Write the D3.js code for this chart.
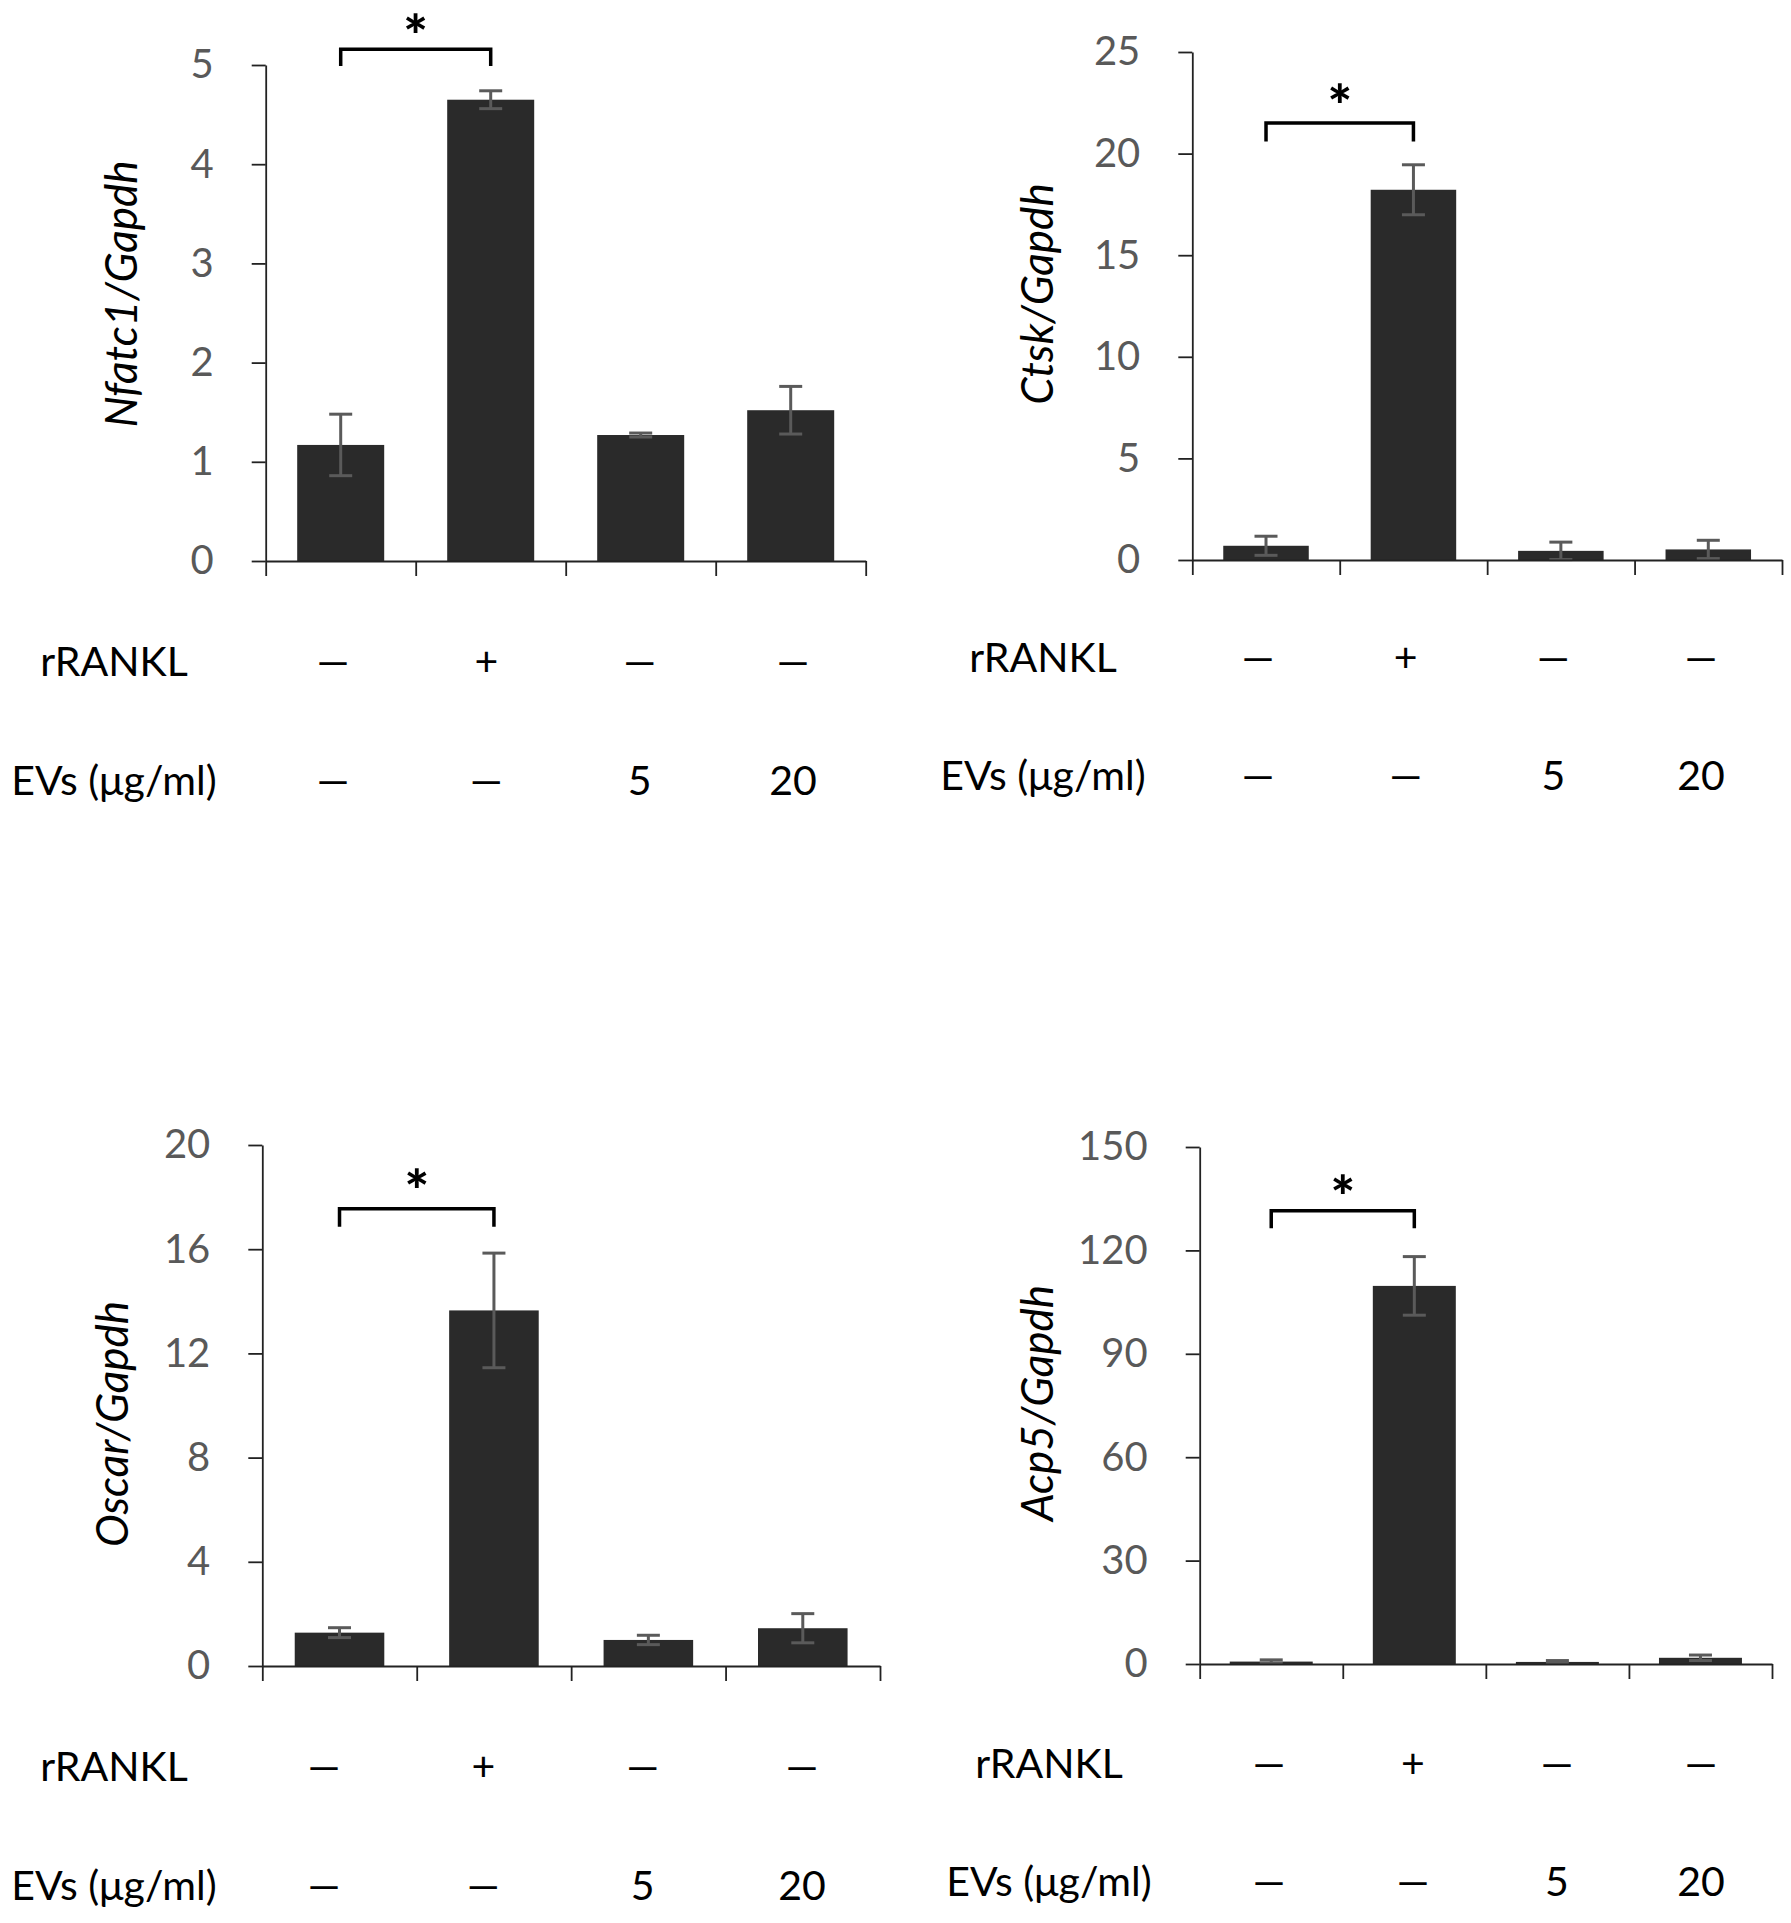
<!DOCTYPE html>
<html lang="en">
<head>
<meta charset="UTF-8">
<title>Osteoclast marker expression</title>
<script src="https://d3js.org/d3.v7.min.js"></script>
<style>
  body { margin: 0; background: #fff; }
  svg { display: block; }
</style>
</head>
<body>
<svg id="chart"></svg>
<script>
// ---- data ----
var categories = ["ctrl", "rRANKL", "EVs 5", "EVs 20"];
var rranklRow = ["\u2014", "+", "\u2014", "\u2014"];
var evsRow = ["\u2014", "\u2014", "5", "20"];
var genes = ["Nfatc1", "Ctsk", "Oscar", "Acp5"];

var nfatc1Mean = [1.17, 4.65, 1.27, 1.52];
var nfatc1Err  = [0.31, 0.09, 0.02, 0.24];
var ctskMean   = [0.70, 18.22, 0.45, 0.52];
var ctskErr    = [0.47, 1.23, 0.43, 0.45];
var oscarMean  = [1.28, 13.65, 1.00, 1.45];
var oscarErr   = [0.19, 2.20, 0.18, 0.56];
var acp5Mean   = [0.70, 109.7, 0.60, 1.80];
var acp5Err    = [0.50, 8.5, 0.40, 0.80];

var yMax  = [5, 25, 20, 150];
var yStep = [1, 5, 4, 30];

// significance bracket (between ctrl and rRANKL), in data units
var sigTop  = [5.16, 21.5, 17.55, 131.5];
var sigLeg  = [4.99, 20.6, 16.86, 126.4];
var starAt  = [5.44, 23.1, 18.8, 139.7];

var means = [nfatc1Mean, ctskMean, oscarMean, acp5Mean];
var errs  = [nfatc1Err, ctskErr, oscarErr, acp5Err];

// ---- layout (pixels) ----
var layout = [
  {x0: 265.7, x1: 865.7, yTop: 65,   yBase: 561,  labX: 122,  labY: 294,
   row1: 661,  row2: 780,  rowLabX: 114,  symA: 333,  symB: 793},
  {x0: 1192.3, x1: 1782, yTop: 52,   yBase: 560,  labX: 1038, labY: 294,
   row1: 657,  row2: 775,  rowLabX: 1043, symA: 1258, symB: 1701},
  {x0: 262.3, x1: 880,   yTop: 1145, yBase: 1666, labX: 113,  labY: 1424,
   row1: 1766, row2: 1885, rowLabX: 114,  symA: 324,  symB: 802},
  {x0: 1199.7, x1: 1772, yTop: 1147, yBase: 1664, labX: 1038, labY: 1403,
   row1: 1763, row2: 1881, rowLabX: 1049, symA: 1269, symB: 1701}
];

var W = 1791, H = 1923;
var FONT = "Lato, 'Open Sans', 'DejaVu Sans', sans-serif";

var svg = d3.select("#chart").attr("width", W).attr("height", H)
    .style("font-family", FONT);

layout.forEach(function(L, p) {
    var g = svg.append("g");

    var x = d3.scaleBand().domain(categories)
        .range([L.x0, L.x1]).paddingInner(0.42).paddingOuter(0.21);
    var xEdge = d3.scaleLinear().domain([0, categories.length]).range([L.x0, L.x1]);
    var y = d3.scaleLinear().domain([0, yMax[p]]).range([L.yBase, L.yTop]);

    // bars
    g.selectAll("rect.bar")
        .data(means[p])
        .enter().append("rect")
        .attr("class", "bar")
        .attr("x", function(d, i) { return x(categories[i]); })
        .attr("width", x.bandwidth())
        .attr("y", function(d) { return y(d); })
        .attr("height", function(d) { return y(0) - y(d); })
        .attr("fill", "#2a2a2a");

    // error bars
    var eb = g.selectAll("g.err")
        .data(means[p].map(function(m, i) { return {m: m, e: errs[p][i], c: categories[i]}; }))
        .enter().append("g")
        .attr("class", "err")
        .attr("stroke", "#5a5a5a")
        .attr("stroke-width", 3);
    var cx = function(d) { return x(d.c) + x.bandwidth() / 2; };
    eb.append("line")
        .attr("x1", cx).attr("x2", cx)
        .attr("y1", function(d) { return y(d.m + d.e); })
        .attr("y2", function(d) { return y(Math.max(0, d.m - d.e)); });
    eb.append("line")
        .attr("x1", function(d) { return cx(d) - 11.5; })
        .attr("x2", function(d) { return cx(d) + 11.5; })
        .attr("y1", function(d) { return y(d.m + d.e); })
        .attr("y2", function(d) { return y(d.m + d.e); });
    eb.append("line")
        .attr("x1", function(d) { return cx(d) - 11.5; })
        .attr("x2", function(d) { return cx(d) + 11.5; })
        .attr("y1", function(d) { return y(Math.max(0, d.m - d.e)); })
        .attr("y2", function(d) { return y(Math.max(0, d.m - d.e)); });

    // y axis
    var yAxis = g.append("g")
        .attr("transform", "translate(" + L.x0 + ",0)")
        .call(d3.axisLeft(y).tickValues(d3.range(0, yMax[p] + yStep[p] / 2, yStep[p]))
            .tickFormat(d3.format("d"))
            .tickSize(14).tickSizeOuter(0).tickPadding(38));
    yAxis.select(".domain").attr("stroke", "#222").attr("stroke-width", 1.8);
    yAxis.selectAll(".tick line").attr("stroke", "#222").attr("stroke-width", 1.8);
    yAxis.selectAll(".tick text")
        .attr("font-size", 40).attr("font-family", FONT).attr("fill", "#595959");

    // x axis with ticks at category boundaries
    var xAxis = g.append("g")
        .attr("transform", "translate(0," + L.yBase + ")")
        .call(d3.axisBottom(xEdge).ticks(categories.length).tickSize(15)
            .tickSizeOuter(0).tickFormat(""));
    xAxis.select(".domain").attr("stroke", "#222").attr("stroke-width", 1.8);
    xAxis.selectAll(".tick line").attr("stroke", "#222").attr("stroke-width", 1.8);

    // y axis title
    g.append("text")
        .attr("transform", "translate(" + L.labX + "," + L.labY + ") rotate(-90)")
        .attr("text-anchor", "middle")
        .attr("dy", "0.35em")
        .attr("font-size", 44)
        .attr("font-style", "italic")
        .attr("fill", "#000")
        .text(genes[p] + "/Gapdh");

    // significance bracket
    var bx1 = x(categories[0]) + x.bandwidth() / 2,
        bx2 = x(categories[1]) + x.bandwidth() / 2;
    g.append("path")
        .attr("d", d3.line()([[bx1, y(sigLeg[p])], [bx1, y(sigTop[p])],
                              [bx2, y(sigTop[p])], [bx2, y(sigLeg[p])]]))
        .attr("fill", "none")
        .attr("stroke", "#000")
        .attr("stroke-width", 3.5);
    g.append("text")
        .attr("x", (bx1 + bx2) / 2)
        .attr("y", y(starAt[p]))
        .attr("dy", "0.62em")
        .attr("text-anchor", "middle")
        .attr("font-size", 58)
        .attr("font-weight", "900")
        .text("*");

    // treatment rows
    var sx = d3.scalePoint().domain(categories).range([L.symA, L.symB]);
    [[ "rRANKL", rranklRow, L.row1 ], [ "EVs (\u03bcg/ml)", evsRow, L.row2 ]].forEach(function(r) {
        g.append("text")
            .attr("x", L.rowLabX).attr("y", r[2]).attr("dy", "0.36em")
            .attr("text-anchor", "middle")
            .attr("font-size", 41)
            .text(r[0]);
        g.selectAll(null)
            .data(r[1])
            .enter().append("text")
            .attr("x", function(d, i) { return sx(categories[i]); })
            .attr("y", r[2]).attr("dy", "0.36em")
            .attr("text-anchor", "middle")
            .attr("font-size", 41)
            .text(function(d) { return d; });
    });
});
</script>
</body>
</html>
